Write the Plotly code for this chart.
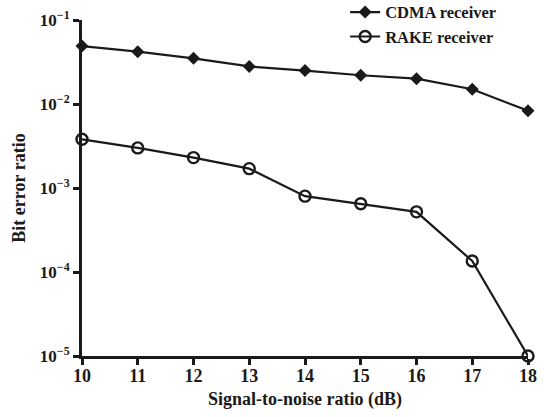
import plotly.graph_objects as go

snr = [10, 11, 12, 13, 14, 15, 16, 17, 18]
cdma = [0.049, 0.042, 0.035, 0.028, 0.025, 0.022, 0.020, 0.015, 0.0083]
rake = [0.0038, 0.0030, 0.0023, 0.0017, 0.00080, 0.00065, 0.00052, 0.000135, 0.00001]
ytick_vals = [1e-1, 1e-2, 1e-3, 1e-4, 1e-5]
ytick_text = ["10<sup>−1</sup>", "10<sup>−2</sup>", "10<sup>−3</sup>", "10<sup>−4</sup>", "10<sup>−5</sup>"]

FAM = "Liberation Serif, Times New Roman, serif"
INK = "#1a1a1a"

fig = go.Figure()
fig.add_trace(go.Scatter(x=snr, y=cdma, mode="lines+markers", name="<b>CDMA receiver</b>",
                         line=dict(color=INK, width=2.2),
                         marker=dict(symbol="diamond", size=10, color=INK),
                         cliponaxis=False))
fig.add_trace(go.Scatter(x=snr, y=rake, mode="lines+markers", name="<b>RAKE receiver</b>",
                         line=dict(color=INK, width=2.2),
                         marker=dict(symbol="circle-open", size=11, color=INK, line=dict(width=2.4)),
                         cliponaxis=False))

fig.update_layout(
    width=544, height=417,
    margin=dict(l=82, r=16, t=20, b=61, autoexpand=False),
    paper_bgcolor="white", plot_bgcolor="white",
    font=dict(family=FAM, size=18, color=INK),
    showlegend=True,
    legend=dict(x=0.59, y=1.075, xanchor="left", yanchor="top", bgcolor="rgba(0,0,0,0)",
                font=dict(family=FAM, size=16.5, color=INK),
                tracegroupgap=0, itemwidth=30),
    xaxis=dict(range=[10, 18], tickvals=snr, ticktext=[f"<b>{v}</b>" for v in snr],
               showgrid=False, zeroline=False,
               showline=True, linecolor=INK, linewidth=3,
               ticks="outside", ticklen=6, tickwidth=3, tickcolor=INK,
               ticklabelstandoff=-5,
               tickfont=dict(family=FAM, size=18, color=INK),
               title=dict(text="<b>Signal-to-noise ratio (dB)</b>", standoff=8,
                          font=dict(family=FAM, size=18, color=INK))),
    yaxis=dict(type="log", range=[-5, -1], tickvals=ytick_vals,
               ticktext=[f"<b>{t}</b>" for t in ytick_text],
               showgrid=False, zeroline=False,
               showline=True, linecolor=INK, linewidth=3,
               ticks="outside", ticklen=6, tickwidth=3, tickcolor=INK,
               tickfont=dict(family=FAM, size=17, color=INK),
               title=dict(text="<b>Bit error ratio</b>", standoff=10,
                          font=dict(family=FAM, size=18, color=INK))),
)

fig.write_html("out.html", config={"displayModeBar": False},
               post_script="document.body.style.margin='0px';")
